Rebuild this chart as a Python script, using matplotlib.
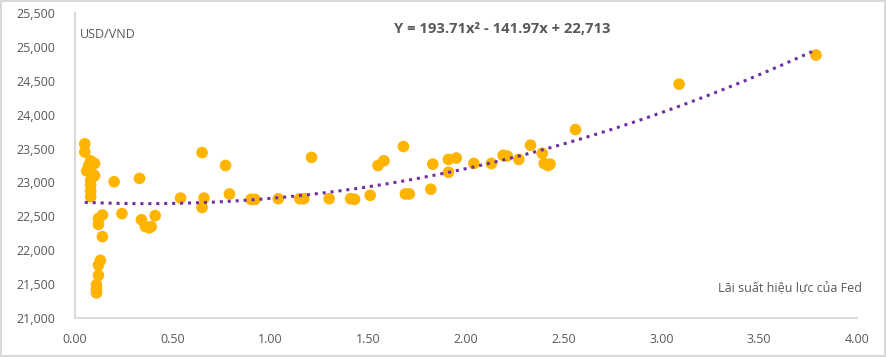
import numpy as np
import matplotlib.pyplot as plt

# Fed effective rate (x) vs USD/VND (y)
fed_rate = [
    0.05, 0.05, 0.08, 0.10, 0.06, 0.09, 0.08, 0.08, 0.08, 0.08, 0.10, 0.07,
    0.20, 0.33, 0.54, 0.65, 0.66, 0.65, 0.14, 0.12, 0.12, 0.24, 0.34, 0.36,
    0.39, 0.41, 0.38, 0.14, 0.13, 0.12, 0.12, 0.11, 0.11, 0.11,
    0.77, 0.79, 0.90, 0.92, 1.04, 1.15, 1.17, 1.21, 1.30, 1.41, 1.43, 1.51,
    1.55, 1.58, 1.68, 1.69, 1.71, 1.82, 1.83, 1.91, 1.95, 1.91, 2.04, 2.13,
    2.19, 2.21, 2.27, 2.33, 2.39, 2.40, 2.42, 2.43, 2.56, 3.09, 3.79,
]
usd_vnd = [
    23570, 23450, 23320, 23280, 23170, 23120, 23030, 22960, 22870, 22790, 23100, 23250,
    23010, 23060, 22770, 23440, 22770, 22630, 22520, 22470, 22380, 22540, 22450, 22350,
    22350, 22510, 22330, 22200, 21850, 21780, 21630, 21490, 21420, 21370,
    23250, 22830, 22750, 22750, 22760, 22760, 22760, 23370, 22760, 22760, 22750, 22810,
    23250, 23320, 23530, 22830, 22830, 22900, 23270, 23340, 23360, 23150, 23280, 23280,
    23400, 23390, 23340, 23550, 23430, 23280, 23250, 23270, 23780, 24450, 24880,
]

# trendline coefficients shown on the chart
coef = [193.71, -141.97, 22713]

x_ticks = [0, 0.5, 1, 1.5, 2, 2.5, 3, 3.5, 4]
y_ticks = [21000, 21500, 22000, 22500, 23000, 23500, 24000, 24500, 25000, 25500]

plt.rcParams["font.family"] = ["Open Sans", "DejaVu Sans"]
text_col = "#595959"

fig = plt.figure(figsize=(8.86, 3.57), dpi=100)
fig.patch.set_edgecolor("#D9D9D9")
fig.patch.set_linewidth(1.5)
ax = fig.add_axes([75 / 886, 1 - 318 / 357, (857 - 75) / 886, (318 - 13) / 357])

ax.scatter(fed_rate, usd_vnd, s=70, color="#FFB400", edgecolors="none", zorder=3)

# trendline from the displayed polynomial
xs = np.linspace(min(fed_rate), max(fed_rate), 200)
ax.plot(xs, np.polyval(coef, xs), color="#7030A0", linestyle=(0, (1, 1.6)),
        linewidth=2.2, zorder=4)

ax.set_xlim(0, 4)
ax.set_ylim(21000, 25500)
ax.set_xticks(x_ticks)
ax.set_xticklabels([f"{v:.2f}" for v in x_ticks])
ax.set_yticks(y_ticks)
ax.set_yticklabels([f"{v:,}" for v in y_ticks])
ax.tick_params(length=0, labelsize=9, labelcolor=text_col)
ax.tick_params(axis="y", pad=14)
ax.tick_params(axis="x", pad=11)

for side in ["top", "right"]:
    ax.spines[side].set_visible(False)
for side in ["left", "bottom"]:
    ax.spines[side].set_color("#D9D9D9")
    ax.spines[side].set_linewidth(1.5)

fig.text(80 / 886, 1 - 34 / 357, "USD/VND", fontsize=9, color=text_col,
         ha="left", va="center")
fig.text(502 / 886, 1 - 29 / 357, "Y = 193.71x² - 141.97x + 22,713", fontsize=10.6,
         fontweight="bold", color=text_col, ha="center", va="center")
fig.text(862 / 886, 1 - 289 / 357, "Lãi suất hiệu lực của Fed", fontsize=9,
         color=text_col, ha="right", va="center")

fig.savefig("out.png", dpi=100, edgecolor=fig.get_edgecolor())
